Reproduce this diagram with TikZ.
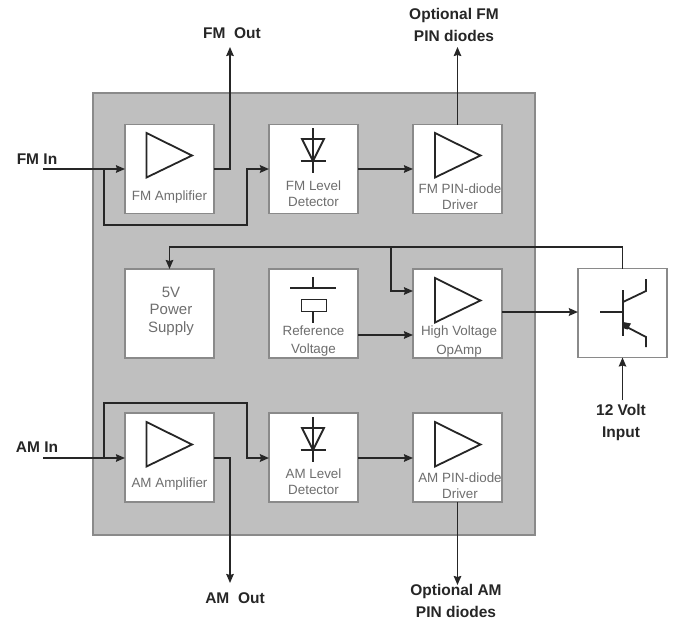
\documentclass[tikz,border=0pt]{standalone}
\usepackage{fontspec}
\setmainfont{Liberation Sans}
\usetikzlibrary{arrows.meta}
\definecolor{panel}{HTML}{BFBFBF}
\definecolor{edge}{HTML}{8A8A8A}
\definecolor{ink}{HTML}{262626}
\definecolor{soft}{HTML}{6E6E6E}
\tikzset{
  x=1pt,y=-1pt,
  block/.style={draw=edge,fill=white,line width=1.2pt,minimum width=89pt,minimum height=89pt,inner sep=0pt,outer sep=0pt},
  wire/.style={draw=ink,line width=1.6pt},
  thickwire/.style={draw=ink,line width=2.6pt},
  arrow/.style={-{Stealth[length=9pt,width=7.5pt,inset=1pt]}},
  sym/.style={draw=ink,line width=1.8pt,line join=miter},
  blocktext/.style={font=\fontsize{13.4}{16.5}\selectfont,text=soft,align=center,inner sep=0pt},
  lab/.style={font=\fontsize{15.5}{22}\selectfont\bfseries,text=ink,align=center,inner sep=0pt}
}
\newcommand{\amp}[2]{\draw[sym] (#1,#2) -- ++(0,44.5) -- ++(45.5,-22) -- cycle;}
\newcommand{\dio}[2]{%
  \draw[sym] (#1,#2) -- ++(0,45);
  \draw[sym] (#1-11,#2+11) -- ++(22,0) -- ++(-11,22) -- cycle;
  \draw[sym] (#1-12.5,#2+33) -- ++(25,0);}
\begin{document}
\begin{tikzpicture}
\useasboundingbox (0,0) rectangle (673,621);
\fill[white] (0,0) rectangle (673,621);
\node[draw=edge,fill=panel,line width=1.2pt,minimum width=442pt,minimum height=442pt,inner sep=0pt,outer sep=0pt] (panel) at (314,314) {};
\node[block] (fma) at (169.5,169) {};
\node[block] (fmd) at (313.5,169) {};
\node[block] (fmp) at (457.5,169) {};
\node[block] (psu) at (169.5,313.5) {};
\node[block] (ref) at (313.5,313.5) {};
\node[block] (hv)  at (457.5,313.5) {};
\node[block] (ama) at (169.5,457.5) {};
\node[block] (amd) at (313.5,457.5) {};
\node[block] (amp) at (457.5,457.5) {};
\node[block] (tr)  at (622.5,313) {};
% symbols
\amp{146.5}{133}
\amp{435}{133}
\amp{435}{278}
\amp{146.5}{422}
\amp{435}{422}
\dio{313}{128}
\dio{313}{417}
% reference symbol
\draw[sym] (313,277) -- (313,288);
\draw[sym] (290,288) -- (336,288);
\draw[draw=ink,line width=1pt] (301,299) rectangle (326,311);
\draw[sym] (313,311) -- (313,323);
% transistor
\draw[sym] (623,290) -- (623,336);
\draw[sym] (600,312) -- (623,312);
\draw[sym] (623,302) -- (646,291) -- (646,279);
\draw[sym] (623,325) -- (646,337) -- (646,347);
\fill[ink] (623,322) -- (631,323.5) -- (627.5,329.5) -- (623,328) -- cycle;
% text in blocks
\node[blocktext] (t1) at (169.5,197.5) {FM Amplifier};
\node[blocktext] (t2) at (313.5,193.5) {FM Level\\Detector};
\node[blocktext] (t3) at (460,196.5) {FM PIN-diode\\Driver};
\node[blocktext,font=\fontsize{15}{17.5}\selectfont] (t4) at (171,311) {5V\\Power\\Supply};
\node[blocktext,font=\fontsize{13.4}{18.5}\selectfont] (t5) at (313.5,341) {Reference\\Voltage};
\node[blocktext,font=\fontsize{13.4}{19}\selectfont] (t6) at (459,342) {High Voltage\\OpAmp};
\node[blocktext] (t7) at (169.5,484.5) {AM Amplifier};
\node[blocktext] (t8) at (313.5,481.5) {AM Level\\Detector};
\node[blocktext] (t9) at (460,485.5) {AM PIN-diode\\Driver};
% outer labels
\node[lab] (fmin) at (37,159) {FM In};
\node[lab] (amin) at (37,447) {AM In};
\node[lab] (fmout) at (232,33) {FM\ \ Out};
\node[lab] (amout) at (235,598) {AM\ \ Out};
\node[lab] (optfm) at (454,25) {Optional FM\\PIN diodes};
\node[lab] (optam) at (456,601) {Optional AM\\PIN diodes};
\node[lab] (volt) at (621,422) {12 Volt\\Input};
% free ends
\coordinate (fmsrc) at (43,169);
\coordinate (amsrc) at (43,458);
\coordinate (fmoutend) at (230,47);
\coordinate (amoutend) at (230,583);
\coordinate (optfmend) at (457.5,47);
\coordinate (optamend) at (457.5,585);
\coordinate (voltsrc) at (622.5,400);
% connectors
\draw[wire,arrow] (fmsrc) -- (fma.west |- fmsrc);
\draw[thickwire,arrow] (104,169) -- (104,225) -- (247,225) -- (247,169) -- (fmd.west |- 0,169);
\draw[wire,arrow] (fma.east |- 0,169) -- (230,169) -- (fmoutend);
\draw[wire,arrow] (fmd.east |- 0,169) -- (fmp.west |- 0,169);
\draw[wire,arrow] (fmp.north) -- (optfmend);
\draw[wire,arrow] (tr.north) -- (622.5,247) -- (169.5,247) -- (psu.north);
\draw[wire,arrow] (391,247) -- (391,291) -- (hv.west |- 0,291);
\draw[wire,arrow] (ref.east |- 0,335) -- (hv.west |- 0,335);
\draw[thickwire,arrow] (hv.east |- 0,312) -- (tr.west |- 0,312);
\draw[wire,arrow] (voltsrc) -- (tr.south);
\draw[wire,arrow] (amsrc) -- (ama.west |- amsrc);
\draw[thickwire,arrow] (104,458) -- (104,403) -- (247,403) -- (247,458) -- (amd.west |- 0,458);
\draw[wire,arrow] (ama.east |- 0,458) -- (230,458) -- (amoutend);
\draw[wire,arrow] (amd.east |- 0,458) -- (amp.west |- 0,458);
\draw[wire,arrow] (amp.south) -- (optamend);
\end{tikzpicture}
\end{document}
